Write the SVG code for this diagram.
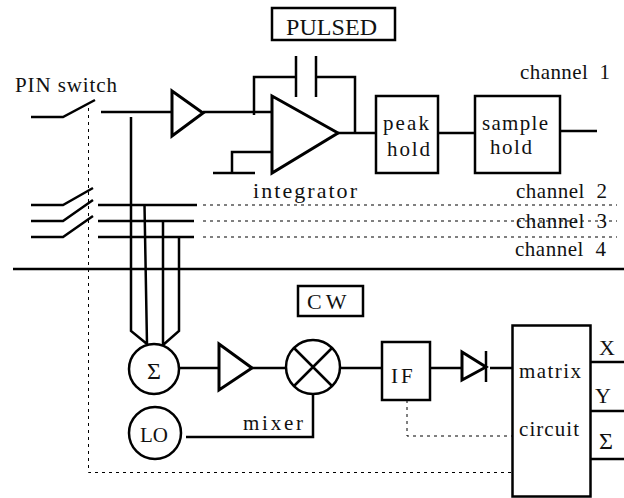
<svg xmlns="http://www.w3.org/2000/svg" width="624" height="498" viewBox="0 0 624 498">
<style>
text{font-family:"Liberation Serif","Times New Roman",serif;font-size:21px;fill:#111}
.s{fill:none;stroke:#000;stroke-width:2.5}
.t{fill:none;stroke:#000;stroke-width:3}
.b{fill:#fff;stroke:#000;stroke-width:2.5}
.d{fill:none;stroke:#000;stroke-width:1;stroke-dasharray:3 4}
</style>
<rect width="624" height="498" fill="#fff"/>
<g id="connectors">
<path class="d" d="M88.5 108V472.5H512"/>
<path class="d" d="M203 205H617M203 221H617M203 237H617"/>
<path class="d" d="M407 400V436H512"/>
<path class="s" d="M31 117H63L95 100M101 112H171M203 112H272"/>
<path class="s" d="M31 205H63L93 188M31 221H63L93 200M31 237H63L93 216"/>
<path class="s" d="M98 205H197M98 221H194M98 237H194"/>
<path class="s" d="M131 117V331L147 344M144.500 205L147 344M163 221V345M179 237V331L163 345"/>
<path class="s" d="M13 269H624"/>
<path class="s" d="M254 115V77H296M296 56V97M316 56V97M316 77H355V133M338 133H376M272 152H232V173M213 173H255"/>
<path class="s" d="M438 133H475M560 131H597"/>
<path class="s" d="M180 368H219M252 368H286M341 368H381M430 368H461M490 368H512"/>
<path class="s" d="M186 437H313V394"/>
<path class="s" d="M590 362H624M590 411H624M590 459H624"/>
</g>
<g id="pulsed"><rect class="b" x="272" y="8" width="123" height="32"/><text x="286" y="35" textLength="91" style="font-size:24px">PULSED</text></g>
<g id="pin-label"><text x="15" y="92" textLength="102">PIN switch</text></g>
<g id="amp1"><path class="t" d="M172 91L203 113L172 136Z"/></g>
<g id="integrator"><path class="t" d="M272 96L338 133L272 173Z"/><text x="253" y="198" textLength="104" style="font-size:22px">integrator</text></g>
<g id="peak-hold"><rect class="b" x="376" y="96" width="62" height="77"/><text x="383" y="130" textLength="46">peak</text><text x="387" y="156" textLength="43">hold</text></g>
<g id="sample-hold"><rect class="b" x="475" y="96" width="85" height="77"/><text x="482" y="130" textLength="66">sample</text><text x="490" y="154" textLength="42">hold</text></g>
<g id="channels">
<text x="520" y="79" textLength="90" xml:space="preserve">channel  1</text>
<text x="516" y="198" textLength="91" xml:space="preserve">channel  2</text>
<text x="516" y="228" textLength="91" xml:space="preserve">channel  3</text>
<text x="515" y="256" textLength="91" xml:space="preserve">channel  4</text>
</g>
<g id="cw"><rect class="b" x="298" y="286" width="65" height="30"/><text x="307" y="309" style="font-size:22px;letter-spacing:4px">CW</text></g>
<g id="sum"><circle class="b" cx="154" cy="369" r="25"/><text x="154" y="379" text-anchor="middle" style="font-size:24px">Σ</text></g>
<g id="lo"><circle class="b" cx="155" cy="433" r="26"/><text x="140" y="442" style="font-size:21px">LO</text></g>
<g id="amp2"><path class="t" d="M219 344L252 368L219 390Z"/></g>
<g id="mixer"><circle class="b" cx="313" cy="367" r="27"/><path class="s" d="M294 348L332 386M332 348L294 386"/><text x="243" y="430" textLength="60">mixer</text></g>
<g id="if"><rect class="b" x="382" y="342" width="48" height="58"/><text x="391" y="383" style="font-size:21px;letter-spacing:3px">IF</text></g>
<g id="diode"><path class="t" d="M462 352L486 367L462 380Z"/><path class="s" d="M486 351V382"/></g>
<g id="matrix"><rect class="b" x="512.500" y="325.500" width="78" height="171"/><text x="519" y="378" textLength="62">matrix</text><text x="519" y="436" textLength="60">circuit</text></g>
<g id="outputs"><text x="599" y="355" style="font-size:22px">X</text><text x="595" y="403" style="font-size:22px">Y</text><text x="599" y="449" style="font-size:24px">Σ</text></g>
</svg>
